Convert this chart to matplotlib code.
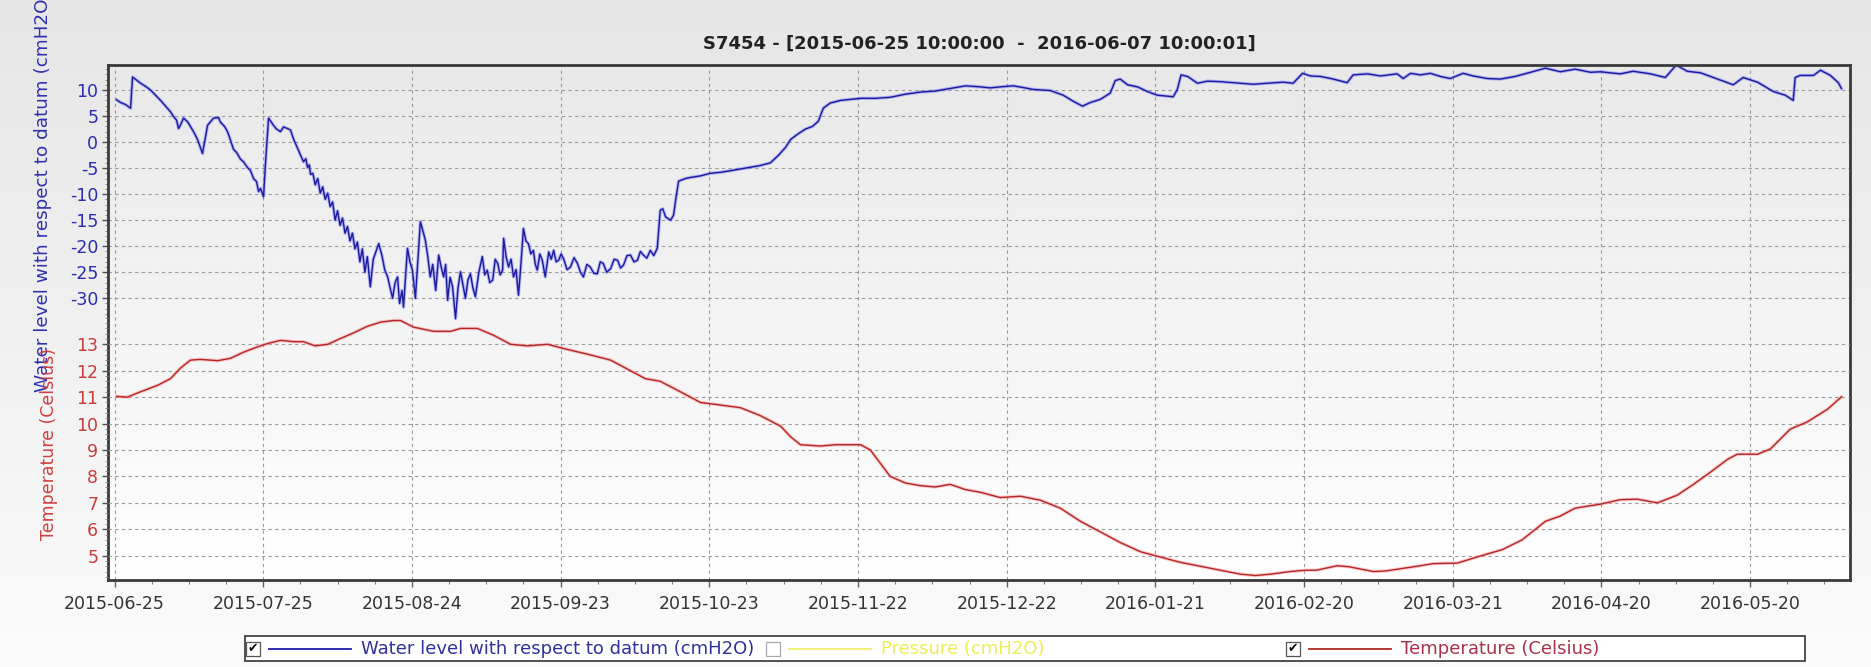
import numpy as np
import pandas as pd
import matplotlib
matplotlib.use('Agg')
import matplotlib.pyplot as plt
import matplotlib.dates as mdates
from matplotlib.colors import LinearSegmentedColormap
from matplotlib.patches import Rectangle
from matplotlib.lines import Line2D
from matplotlib.ticker import FixedLocator

plt.rcParams['axes.unicode_minus'] = False

# Series time base: days since 2015-06-25 00:00
origin = pd.Timestamp('2015-06-25')
first_obs = pd.Timestamp('2015-06-25 10:00:00')
last_obs = pd.Timestamp('2016-06-07 10:00:01')

# Water level with respect to datum (cmH2O)
wl_days = [
    0.42, 1.21, 2.22, 3.23, 3.63, 4.44, 5.25, 6.25, 7.26, 8.27, 9.28, 10.29,
    11.3, 11.9, 12.51, 12.91, 13.31, 13.92, 14.73, 15.94, 16.74, 17.75, 18.36,
    18.76, 19.97, 20.98, 21.38, 22.19, 22.8, 23.4, 24.01, 24.61, 25.42, 26.02,
    26.83, 27.44, 28.04, 28.65, 29.05, 29.45, 30.06, 30.46, 31.07, 32.08,
    32.68, 33.49, 34.09, 34.9, 35.51, 36.11, 36.92, 37.52, 38.13, 38.6, 38.94,
    39.3, 39.54, 40.0, 40.5, 41.0, 41.5, 42.0, 42.5, 43.0, 43.5, 44.0, 44.5,
    45.0, 45.5, 46.0, 46.5, 47.0, 47.5, 48.0, 48.5, 49.0, 49.5, 50.0, 50.5,
    51.0, 51.6, 52.2, 53.3, 54.0, 54.5, 55.1, 55.6, 56.1, 56.6, 57.1, 57.5,
    58.0, 58.3, 59.1, 59.6, 60.1, 60.7, 61.7, 62.2, 62.7, 63.2, 63.7, 64.2,
    64.8, 65.4, 65.9, 66.4, 66.8, 67.2, 67.7, 68.2, 68.8, 69.3, 69.8, 70.3,
    70.8, 71.3, 71.8, 72.3, 72.8, 73.5, 74.2, 74.7, 75.2, 75.7, 76.3, 76.8,
    77.3, 77.8, 78.3, 78.5, 79.0, 79.5, 80.0, 80.5, 81.0, 81.5, 81.9, 82.5,
    83.0, 83.5, 84.0, 84.5, 84.9, 85.3, 85.8, 86.3, 86.9, 87.6, 88.1, 88.6,
    89.1, 89.6, 90.1, 90.6, 91.3, 92.0, 92.7, 93.4, 94.0, 94.6, 95.3, 96.0,
    96.7, 97.4, 98.0, 98.6, 99.3, 100.1, 100.8, 101.5, 102.1, 102.7, 103.4,
    104.1, 104.8, 105.5, 106.1, 106.7, 107.4, 108.1, 108.8, 109.5, 110.1,
    110.6, 111.2, 112.2, 112.8, 113.2, 113.8, 115.2, 116.2, 118.2, 120.2,
    122.3, 124.3, 127.3, 130.3, 132.3, 134.0, 135.4, 136.4, 137.8, 139.4,
    140.8, 142.0, 143.0, 144.4, 146.5, 148.5, 150.5, 153.5, 156.5, 159.6,
    162.6, 165.6, 168.6, 171.7, 174.7, 176.7, 178.7, 181.4, 185.4, 188.8,
    191.4, 193.5, 195.3, 196.9, 198.9, 200.9, 201.9, 202.9, 204.4, 206.4,
    208.4, 210.4, 212.4, 213.6, 214.4, 215.2, 216.5, 218.5, 220.5, 223.1,
    227.2, 229.8, 232.6, 235.8, 237.8, 239.7, 241.3, 243.3, 245.9, 248.7,
    249.9, 252.8, 255.4, 258.8, 260.0, 261.5, 263.5, 265.5, 267.5, 269.5,
    272.1, 274.1, 277.0, 279.6, 282.6, 285.7, 288.7, 291.7, 294.7, 297.8,
    299.8, 303.8, 306.4, 309.9, 312.9, 313.9, 315.1, 317.3, 320.0, 322.6,
    326.6, 328.6, 331.5, 334.7, 337.1, 338.7, 339.1, 340.1, 342.8, 344.2,
    346.2, 347.8, 348.42,
]
wl_vals = [
    8.1, 7.6, 7.2, 6.5, 12.5, 11.9, 11.3, 10.7, 10.0, 9.0, 8.0, 6.9,
    5.8, 4.9, 4.2, 2.6, 3.3, 4.6, 3.9, 2.0, 0.5, -2.2, 1.0,
    3.2, 4.6, 4.7, 3.8, 3.0, 2.0, 0.3, -1.4, -2.0, -3.3, -3.8,
    -4.9, -5.5, -7.0, -7.6, -9.5, -8.9, -10.5, -4.0, 4.6, 3.2,
    2.5, 2.0, 2.9, 2.6, 2.3, 0.6, -1.2, -2.5, -3.8, -3.2, -4.9,
    -4.4, -6.2, -6.0, -8.2, -7.0, -9.8, -8.6, -11.0, -9.8, -12.4, -11.5, -15.0,
    -13.2, -16.0, -14.6, -17.5, -16.2, -19.0, -17.5, -20.5, -19.2, -23.0, -20.5, -25.0,
    -22.0, -27.8, -22.5, -19.5, -22.0, -24.5, -25.9, -28.0, -30.0, -27.0, -25.9, -31.0,
    -28.5, -31.7, -20.4, -23.0, -24.6, -30.0, -15.3, -17.0, -18.8, -22.0, -25.9, -23.5,
    -28.5, -21.7, -24.0, -25.9, -23.5, -30.4, -26.0, -27.8, -33.9, -28.0, -24.9, -27.5,
    -30.0, -26.5, -25.3, -28.0, -29.7, -25.0, -22.0, -25.5, -24.6, -27.0, -26.5, -22.5,
    -23.3, -25.5, -24.6, -18.5, -22.0, -24.0, -22.5, -25.9, -24.5, -29.4, -24.6, -16.6,
    -19.0, -19.5, -21.5, -20.8, -23.5, -24.6, -21.5, -22.7, -25.9, -21.1, -22.5, -20.8,
    -23.0, -22.7, -21.5, -22.4, -24.5, -24.0, -22.2, -23.3, -25.0, -25.9, -23.5, -24.0,
    -25.2, -25.3, -23.0, -23.3, -25.0, -24.3, -22.5, -22.7, -24.2, -23.6, -21.8,
    -21.7, -23.0, -22.7, -21.0, -21.7, -22.3, -20.8, -21.8, -20.4, -13.1,
    -12.8, -14.4, -15.0, -14.0, -11.2, -7.5, -7.0, -6.8, -6.5, -6.0,
    -5.8, -5.5, -5.0, -4.5, -4.0, -2.5, -1.0, 0.5, 1.5, 2.5,
    3.0, 4.0, 6.5, 7.5, 8.0, 8.2, 8.4, 8.4, 8.6, 9.2,
    9.6, 9.8, 10.3, 10.8, 10.6, 10.4, 10.6, 10.8, 10.1, 9.9,
    9.0, 7.8, 6.9, 7.6, 8.2, 9.4, 11.8, 12.1, 11.0, 10.6,
    9.7, 9.0, 8.8, 8.7, 10.0, 12.9, 12.6, 11.3, 11.7, 11.6,
    11.3, 11.1, 11.3, 11.5, 11.3, 13.2, 12.7, 12.6, 12.1, 11.4,
    12.9, 13.1, 12.7, 13.1, 12.2, 13.2, 12.9, 13.2, 12.6, 12.2,
    13.2, 12.7, 12.2, 12.1, 12.6, 13.4, 14.2, 13.5, 14.0, 13.4,
    13.5, 13.1, 13.6, 13.1, 12.4, 13.5, 14.8, 13.6, 13.3, 12.4,
    11.0, 12.4, 11.5, 9.7, 9.0, 8.0, 12.4, 12.8, 12.8, 13.8,
    12.8, 11.4, 10.3,
]

# Temperature (Celsius)
temp_days = [
    0.42, 2.6, 5.2, 8.7, 11.3, 13.3, 15.3, 17.3, 20.8, 23.4, 26.0, 28.8, 30.9,
    33.5, 36.1, 38.1, 40.5, 43.0, 45.6, 48.2, 51.0, 53.7, 56.3, 57.7, 60.3,
    64.4, 67.8, 69.8, 73.2, 76.5, 79.9, 83.3, 87.4, 90.6, 96.0, 100.1, 104.1,
    107.1, 110.1, 114.2, 118.2, 122.3, 126.3, 130.3, 134.4, 136.4, 138.4,
    142.4, 145.5, 150.5, 152.5, 154.5, 156.5, 159.6, 162.6, 165.6, 168.6,
    171.7, 174.7, 178.7, 182.8, 186.8, 190.8, 194.9, 198.9, 202.9, 207.0,
    211.0, 215.0, 219.1, 223.1, 227.2, 230.2, 233.2, 237.2, 240.3, 242.5,
    246.7, 249.1, 254.0, 256.4, 262.1, 266.1, 270.9, 275.8, 280.0, 284.0,
    288.7, 291.7, 294.7, 299.8, 303.8, 307.2, 311.3, 315.3, 318.5, 322.0,
    325.4, 327.4, 331.5, 334.1, 338.1, 341.5, 345.6, 348.42,
]
temp_vals = [
    11.03, 11.0, 11.2, 11.45, 11.7, 12.1, 12.4, 12.43, 12.38, 12.47, 12.7, 12.9, 13.03,
    13.15, 13.1, 13.1, 12.94, 13.0, 13.22, 13.43, 13.68, 13.84, 13.9, 13.9, 13.65,
    13.49, 13.49, 13.6, 13.6, 13.34, 13.0, 12.94, 13.0, 12.84, 12.6, 12.4, 12.0,
    11.7, 11.6, 11.2, 10.8, 10.7, 10.6, 10.3, 9.9, 9.5, 9.2,
    9.15, 9.2, 9.2, 9.0, 8.5, 8.0, 7.75, 7.65, 7.6, 7.7,
    7.5, 7.4, 7.2, 7.25, 7.1, 6.8, 6.3, 5.9, 5.5, 5.15,
    4.95, 4.75, 4.6, 4.45, 4.3, 4.25, 4.3, 4.4, 4.45, 4.45,
    4.62, 4.58, 4.4, 4.42, 4.58, 4.7, 4.72, 5.0, 5.23, 5.6,
    6.3, 6.5, 6.8, 6.95, 7.12, 7.14, 7.0, 7.29, 7.69, 8.16,
    8.64, 8.84, 8.84, 9.04, 9.79, 10.06, 10.54, 11.01,
]

tick_dates = pd.date_range('2015-06-25', periods=12, freq='30D')
water_ticks = [-30, -25, -20, -15, -10, -5, 0, 5, 10]
temp_ticks = [5, 6, 7, 8, 9, 10, 11, 12, 13]

title = 'S7454 - [2015-06-25 10:00:00  -  2016-06-07 10:00:01]'
water_label = 'Water level with respect to datum (cmH2O)'
temp_label = 'Temperature (Celsius)'

wl_x = origin + pd.to_timedelta(wl_days, unit='D')
temp_x = origin + pd.to_timedelta(temp_days, unit='D')

W, H = 1871, 667
fig = plt.figure(figsize=(W / 100, H / 100), dpi=100)

# figure background gradient
bg = fig.add_axes([0, 0, 1, 1], zorder=-10)
bg_cmap = LinearSegmentedColormap.from_list('bg', ['#fbfbfb', '#e6e6e6'])
bg.imshow(np.linspace(0, 1, 256).reshape(-1, 1)[::-1], aspect='auto', cmap=bg_cmap,
          extent=[0, 1, 0, 1])
bg.axis('off')

rect = [108 / W, 1 - 580 / H, (1850 - 108) / W, (580 - 65) / H]

# plot area gradient
gax = fig.add_axes(rect, zorder=0)
pa_cmap = LinearSegmentedColormap.from_list('pa', ['#ffffff', '#e9e9e9'])
gax.imshow(np.linspace(0, 1, 256).reshape(-1, 1)[::-1], aspect='auto', cmap=pa_cmap,
           extent=[0, 1, 0, 1])
gax.axis('off')

ax = fig.add_axes(rect, zorder=1)
ax.patch.set_visible(False)
ax2 = ax.twinx()
ax2.set_zorder(2)
ax2.patch.set_visible(False)

# water level line
ax.plot(wl_x, wl_vals, color='#6a6aff', lw=2.4, alpha=0.45, solid_joinstyle='round')
ax.plot(wl_x, wl_vals, color='#1a1a9a', lw=1.0)

# temperature line
ax2.plot(temp_x, temp_vals, color='#ff8080', lw=2.4, alpha=0.45)
ax2.plot(temp_x, temp_vals, color='#b02828', lw=1.0)

span = last_obs - first_obs
ax.set_xlim(first_obs - span * 0.005, last_obs + span * 0.005)
ax.set_ylim(-84.1, 14.8)
ax2.set_ylim(4.08, 23.57)

# x axis
ax.xaxis.set_major_locator(FixedLocator(mdates.date2num(tick_dates)))
ax.xaxis.set_minor_locator(FixedLocator(
    mdates.date2num(pd.date_range('2015-06-25', periods=48, freq='180h'))))
ax.xaxis.set_major_formatter(mdates.DateFormatter('%Y-%m-%d'))
ax.tick_params(axis='x', which='major', length=5, width=1, color='#606060',
               labelsize=12.5, labelcolor='#333333', pad=6)
ax.tick_params(axis='x', which='minor', length=3, width=0.8, color='#808080')

# y axes, both on the left side
ax.set_yticks(water_ticks)
ax.yaxis.set_minor_locator(FixedLocator(np.arange(-33, 15, 1)))
ax.tick_params(axis='y', which='major', length=4, width=1, color='#505050',
               labelsize=12.5, labelcolor='#2b2bb0', pad=3)
ax.tick_params(axis='y', which='minor', length=2, width=0.6, color='#808080')

ax2.yaxis.tick_left()
ax2.set_yticks(temp_ticks)
ax2.yaxis.set_minor_locator(FixedLocator(np.arange(4.2, 14.01, 0.2)))
ax2.tick_params(axis='y', which='major', length=4, width=1, color='#505050',
                labelsize=12.5, labelcolor='#c83c3c', pad=3)
ax2.tick_params(axis='y', which='minor', length=2, width=0.6, color='#808080')

# grid
grid_kw = dict(color='#9a9a9a', lw=0.8, linestyle=(0, (3, 3)))
ax.grid(True, axis='x', **grid_kw)
ax.grid(True, axis='y', **grid_kw)
ax2.grid(True, axis='y', **grid_kw)

for s in ax2.spines.values():
    s.set_visible(False)
for s in ax.spines.values():
    s.set_color('#3a3a3a')
    s.set_linewidth(2)

# title and axis labels
fig.text(979 / W, 1 - 44 / H, title, ha='center', va='center',
         fontsize=13, fontweight='bold', color='#222222')
fig.text(43 / W, 1 - 392 / H, water_label, rotation=90, ha='center', va='bottom',
         fontsize=13.2, color='#3030b0')
fig.text(49 / W, 1 - 540 / H, temp_label, rotation=90, ha='center', va='bottom',
         fontsize=12.5, color='#d04040')

# legend box with check boxes
box_l, box_r, box_t, box_b = 245, 1805, 636, 661
fig.add_artist(Rectangle((box_l / W, 1 - box_b / H), (box_r - box_l) / W,
                         (box_b - box_t) / H, transform=fig.transFigure,
                         facecolor='white', edgecolor='#333333', lw=1.2))
col_w = (box_r - box_l) / 3
legend_items = [
    (water_label, '#1c1ca8', '#30309a', True),
    ('Pressure (cmH2O)', '#f0f070', '#eeee55', False),
    (temp_label, '#b02828', '#a8304a', True),
]
yc = 1 - (box_t + box_b) / 2 / H
for i, (lab, lc, tc, checked) in enumerate(legend_items):
    cx = box_l + i * col_w + 8
    fig.add_artist(Rectangle(((cx - 7) / W, yc - 7 / H), 14 / W, 14 / H,
                             transform=fig.transFigure, facecolor='white',
                             edgecolor='#555555' if checked else '#aaaaaa', lw=0.9))
    if checked:
        fig.text(cx / W, yc, '\u2714', ha='center', va='center', fontsize=9,
                 color='#111111')
    fig.add_artist(Line2D([(cx + 16) / W, (cx + 98) / W], [yc, yc],
                          transform=fig.transFigure, color=lc, lw=1.3))
    fig.text((cx + 108) / W, yc, lab, ha='left', va='center', fontsize=13,
             color=tc)

fig.savefig('out.png', dpi=100)
